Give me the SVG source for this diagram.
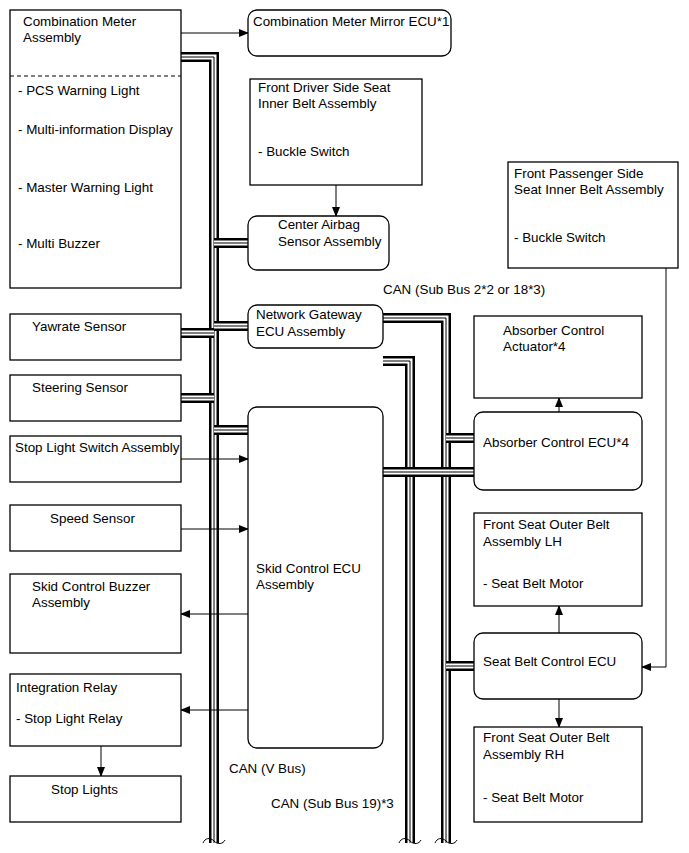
<svg xmlns="http://www.w3.org/2000/svg" width="689" height="853" viewBox="0 0 689 853">
<style>
.box{fill:#fff;stroke:#000;stroke-width:1.3}
.t{font-family:"Liberation Sans",Arial,sans-serif;font-size:13.4px;fill:#000}
.ln{fill:none;stroke:#000;stroke-width:1}
.k1{fill:none;stroke:#000;stroke-width:10}
.k2{fill:none;stroke:#fff;stroke-width:5}
.k3{fill:none;stroke:#000;stroke-width:1}
.brk{fill:none;stroke:#000;stroke-width:1}
</style>
<defs>
<marker id="ah" markerWidth="10" markerHeight="8" refX="9" refY="4" orient="auto" markerUnits="userSpaceOnUse">
<path d="M0,0 L10,4 L0,8 Z" fill="#000"/>
</marker>
<path id="b1" d="M181,57 H214 V843"/>
<path id="b2" d="M214,243 H248"/>
<path id="b3" d="M214,326 H248"/>
<path id="b4" d="M181,333 H214"/>
<path id="b5" d="M181,398 H214"/>
<path id="b6" d="M214,430 H248"/>
<path id="b7" d="M383,318 H446 V843"/>
<path id="b8" d="M446,438 H474"/>
<path id="b9" d="M446,666 H474"/>
<path id="b10" d="M383,361 H410 V843"/>
<path id="b11" d="M383,472 H474"/>
</defs>

<g id="connectors">
<use href="#b1" class="k1"/><use href="#b1" class="k2"/><use href="#b1" class="k3"/>
<use href="#b2" class="k1"/><use href="#b2" class="k2"/><use href="#b2" class="k3"/>
<use href="#b3" class="k1"/><use href="#b3" class="k2"/><use href="#b3" class="k3"/>
<use href="#b4" class="k1"/><use href="#b4" class="k2"/><use href="#b4" class="k3"/>
<use href="#b5" class="k1"/><use href="#b5" class="k2"/><use href="#b5" class="k3"/>
<use href="#b6" class="k1"/><use href="#b6" class="k2"/><use href="#b6" class="k3"/>
<use href="#b7" class="k1"/><use href="#b7" class="k2"/><use href="#b7" class="k3"/>
<use href="#b10" class="k1"/><use href="#b10" class="k2"/><use href="#b10" class="k3"/>
<use href="#b8" class="k1"/><use href="#b8" class="k2"/><use href="#b8" class="k3"/>
<use href="#b9" class="k1"/><use href="#b9" class="k2"/><use href="#b9" class="k3"/>
<use href="#b11" class="k1"/><use href="#b11" class="k2"/><use href="#b11" class="k3"/>
<path class="brk" d="M203,843 C205,838 210,837 214,841 C218,845 223,844 225,840"/>
<path class="brk" d="M399,843 C401,838 406,837 410,841 C414,845 419,844 421,840"/>
<path class="brk" d="M435,843 C437,838 442,837 446,841 C450,845 455,844 457,840"/>
<path class="ln" d="M181,33 H248" marker-end="url(#ah)"/>
<path class="ln" d="M336,185 V216" marker-end="url(#ah)"/>
<path class="ln" d="M181,459 H248" marker-end="url(#ah)"/>
<path class="ln" d="M181,529 H248" marker-end="url(#ah)"/>
<path class="ln" d="M248,614 H181" marker-end="url(#ah)"/>
<path class="ln" d="M248,710 H181" marker-end="url(#ah)"/>
<path class="ln" d="M101,746 V776" marker-end="url(#ah)"/>
<path class="ln" d="M559,412 V398" marker-end="url(#ah)"/>
<path class="ln" d="M559,633 V606" marker-end="url(#ah)"/>
<path class="ln" d="M559,699 V727" marker-end="url(#ah)"/>
<path class="ln" d="M666,268 V667 H642" marker-end="url(#ah)"/>
<text class="t" x="383" y="294">CAN (Sub Bus 2*2 or 18*3)</text>
<text class="t" x="229" y="773">CAN (V Bus)</text>
<text class="t" x="271" y="808">CAN (Sub Bus 19)*3</text>
</g>

<g id="combination-meter">
<rect class="box" x="10" y="10" width="171" height="278"/>
<line x1="10" y1="76" x2="181" y2="76" stroke="#000" stroke-width="1" stroke-dasharray="4,3"/>
<text class="t" x="23" y="26">Combination Meter</text>
<text class="t" x="23" y="42">Assembly</text>
<text class="t" x="18" y="95">- PCS Warning Light</text>
<text class="t" x="18" y="134">- Multi-information Display</text>
<text class="t" x="18" y="192">- Master Warning Light</text>
<text class="t" x="18" y="248">- Multi Buzzer</text>
</g>
<g id="mirror-ecu">
<rect class="box" x="248" y="10" width="203" height="46" rx="9"/>
<text class="t" x="253" y="26">Combination Meter Mirror ECU*1</text>
</g>
<g id="driver-belt">
<rect class="box" x="250" y="79" width="172" height="106"/>
<text class="t" x="258" y="92">Front Driver Side Seat</text>
<text class="t" x="258" y="108">Inner Belt Assembly</text>
<text class="t" x="258" y="156">- Buckle Switch</text>
</g>
<g id="center-airbag">
<rect class="box" x="248" y="216" width="141" height="54" rx="9"/>
<text class="t" x="278" y="229">Center Airbag</text>
<text class="t" x="278" y="246">Sensor Assembly</text>
</g>
<g id="passenger-belt">
<rect class="box" x="508" y="162" width="170" height="106"/>
<text class="t" x="514" y="178">Front Passenger Side</text>
<text class="t" x="514" y="194">Seat Inner Belt Assembly</text>
<text class="t" x="514" y="242">- Buckle Switch</text>
</g>
<g id="yawrate">
<rect class="box" x="10" y="314" width="171" height="46"/>
<text class="t" x="32" y="331">Yawrate Sensor</text>
</g>
<g id="gateway">
<rect class="box" x="248" y="305" width="135" height="43" rx="9"/>
<text class="t" x="256" y="319">Network Gateway</text>
<text class="t" x="256" y="336">ECU Assembly</text>
</g>
<g id="steering">
<rect class="box" x="10" y="375" width="171" height="46"/>
<text class="t" x="32" y="392">Steering Sensor</text>
</g>
<g id="absorber-actuator">
<rect class="box" x="474" y="316" width="168" height="82"/>
<text class="t" x="503" y="335">Absorber Control</text>
<text class="t" x="503" y="351">Actuator*4</text>
</g>
<g id="skid-ecu">
<rect class="box" x="248" y="407" width="135" height="341" rx="9"/>
<text class="t" x="256" y="573">Skid Control ECU</text>
<text class="t" x="256" y="589">Assembly</text>
</g>
<g id="absorber-ecu">
<rect class="box" x="474" y="412" width="168" height="78" rx="9"/>
<text class="t" x="483" y="447">Absorber Control ECU*4</text>
</g>
<g id="stop-light-switch">
<rect class="box" x="10" y="436" width="171" height="46"/>
<text class="t" x="15" y="452">Stop Light Switch Assembly</text>
</g>
<g id="speed-sensor">
<rect class="box" x="10" y="505" width="171" height="46"/>
<text class="t" x="50" y="523">Speed Sensor</text>
</g>
<g id="belt-lh">
<rect class="box" x="474" y="513" width="168" height="93"/>
<text class="t" x="483" y="529">Front Seat Outer Belt</text>
<text class="t" x="483" y="546">Assembly LH</text>
<text class="t" x="483" y="588">- Seat Belt Motor</text>
</g>
<g id="skid-buzzer">
<rect class="box" x="10" y="574" width="171" height="79"/>
<text class="t" x="32" y="591">Skid Control Buzzer</text>
<text class="t" x="32" y="607">Assembly</text>
</g>
<g id="seat-belt-ecu">
<rect class="box" x="474" y="633" width="168" height="66" rx="9"/>
<text class="t" x="483" y="666">Seat Belt Control ECU</text>
</g>
<g id="integration-relay">
<rect class="box" x="10" y="674" width="171" height="72"/>
<text class="t" x="16" y="692">Integration Relay</text>
<text class="t" x="16" y="723">- Stop Light Relay</text>
</g>
<g id="belt-rh">
<rect class="box" x="474" y="727" width="168" height="95"/>
<text class="t" x="483" y="742">Front Seat Outer Belt</text>
<text class="t" x="483" y="759">Assembly RH</text>
<text class="t" x="483" y="802">- Seat Belt Motor</text>
</g>
<g id="stop-lights">
<rect class="box" x="10" y="776" width="171" height="46"/>
<text class="t" x="51" y="794">Stop Lights</text>
</g>
</svg>
